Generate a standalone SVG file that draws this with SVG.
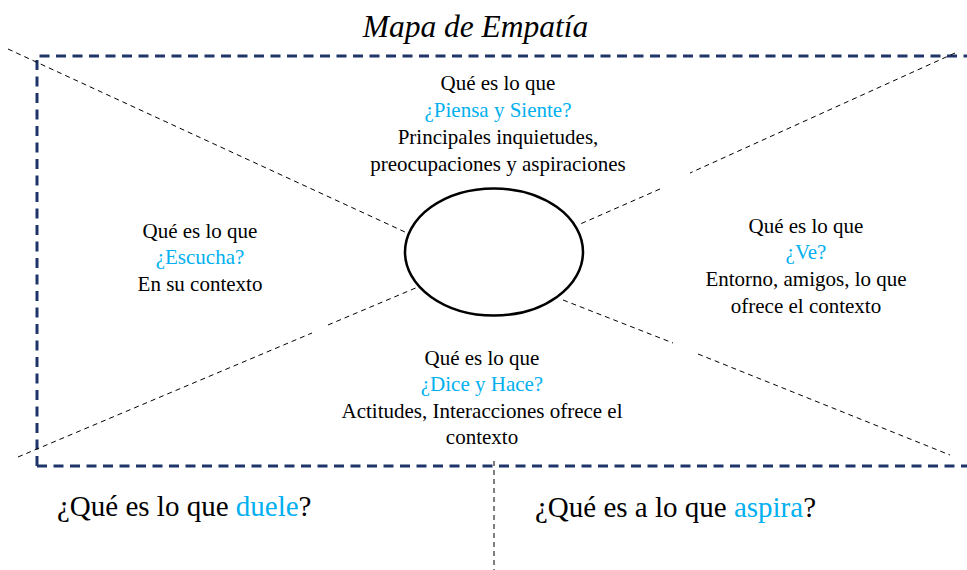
<svg xmlns="http://www.w3.org/2000/svg" width="967" height="570" viewBox="0 0 967 570">
<style>
  .frame { fill: none; stroke: #1f3468; stroke-width: 3; stroke-dasharray: 10 6.5; }
  .diag { fill: none; stroke: #000; stroke-width: 1; stroke-dasharray: 5 4; }
  .t { font-size: 21px; fill: #000; text-anchor: middle; }
  .big { font-size: 29px; fill: #000; }
  .blue { fill: #00b0f0; }
  .title { font-size: 31.5px; font-style: italic; fill: #000; text-anchor: middle; }
</style>
<rect width="967" height="570" fill="#fff"/>
<g id="frame">
  <path class="frame" d="M37,466 L37,56 L967,56"/>
  <path class="frame" d="M37,466 L967,466"/>
</g>
<g id="connectors">
  <line class="diag" x1="8" y1="49" x2="405" y2="232"/>
  <line class="diag" x1="955" y1="53" x2="690" y2="173"/>
  <line class="diag" x1="660" y1="189" x2="578" y2="225"/>
  <line class="diag" x1="18" y1="457" x2="312" y2="333"/>
  <line class="diag" x1="328" y1="325" x2="418" y2="287"/>
  <line class="diag" x1="563" y1="300" x2="673" y2="343"/>
  <line class="diag" x1="698" y1="354" x2="950" y2="455"/>
  <line class="diag" x1="494" y1="461" x2="494" y2="570"/>
</g>
<g id="center">
  <ellipse cx="494" cy="252" rx="89" ry="63.5" fill="#fff" stroke="#000" stroke-width="2.5"/>
</g>
<g font-family="Liberation Serif, Times New Roman, serif">
<g id="title">
  <text class="title" x="475.5" y="37">Mapa de Empatía</text>
</g>
<g id="piensa">
  <text class="t" x="498" y="90">Qué es lo que</text>
  <text class="t blue" x="498" y="117">¿Piensa y Siente?</text>
  <text class="t" x="498" y="144">Principales inquietudes,</text>
  <text class="t" x="498" y="171">preocupaciones y aspiraciones</text>
</g>
<g id="escucha">
  <text class="t" x="200" y="238">Qué es lo que</text>
  <text class="t blue" x="200" y="264">¿Escucha?</text>
  <text class="t" x="200" y="291">En su contexto</text>
</g>
<g id="ve">
  <text class="t" x="806" y="233">Qué es lo que</text>
  <text class="t blue" x="806" y="259">¿Ve?</text>
  <text class="t" x="806" y="286">Entorno, amigos, lo que</text>
  <text class="t" x="806" y="313">ofrece el contexto</text>
</g>
<g id="dice">
  <text class="t" x="482" y="365">Qué es lo que</text>
  <text class="t blue" x="482" y="391">¿Dice y Hace?</text>
  <text class="t" x="482" y="418">Actitudes, Interacciones ofrece el</text>
  <text class="t" x="482" y="444">contexto</text>
</g>
<g id="duele">
  <text class="big" x="57" y="516">¿Qué es lo que <tspan class="blue">duele</tspan>?</text>
</g>
<g id="aspira">
  <text class="big" x="535" y="517">¿Qué es a lo que <tspan class="blue">aspira</tspan>?</text>
</g>
</g>
</svg>
